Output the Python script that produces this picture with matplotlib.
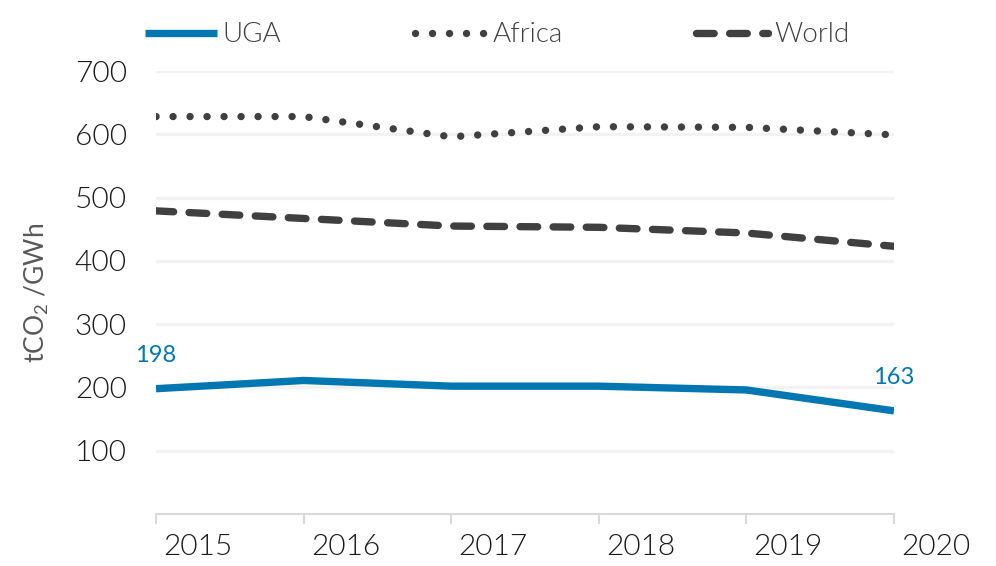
import matplotlib.pyplot as plt
from matplotlib.transforms import ScaledTranslation

# ---------------------------------------------------------
# Dados (tCO2/GWh)
# ---------------------------------------------------------
years = [2015, 2016, 2017, 2018, 2019, 2020]
uga = [198, 211, 202, 202, 196, 163]
africa = [628, 628, 596, 612, 611, 599]
world = [479, 467, 455, 453, 444, 423]

yticks = [100, 200, 300, 400, 500, 600, 700]

BLUE = "#0077b0"
DARK = "#404040"
GRID = "#f2f2f2"
AXIS = "#d9d9d9"

plt.rcParams["font.family"] = ["Lato", "DejaVu Sans"]
plt.rcParams["font.weight"] = 300
plt.rcParams["mathtext.fontset"] = "custom"
plt.rcParams["mathtext.rm"] = "Lato:weight=300"

fig = plt.figure(figsize=(9.96, 5.66), dpi=100)
ax = fig.add_axes([156 / 996, 52 / 566, (894 - 156) / 996, (514 - 71) / 566])

lw = 5.3
ax.plot(years, uga, color=BLUE, lw=lw, solid_capstyle="butt", label="UGA", zorder=4)
ax.plot(years, africa, color=DARK, lw=lw, linestyle=(0, (0.01, 2.3)),
        dash_capstyle="round", label="Africa", zorder=3)
ax.plot(years, world, color=DARK, lw=lw, linestyle=(0, (2.4, 2.1)),
        dash_capstyle="round", label="World", zorder=3)

# rótulos primeiro e último ponto
for i in (0, -1):
    ax.annotate(str(uga[i]), (years[i], uga[i]), xytext=(0, 24),
                textcoords="offset points", ha="center", va="center",
                color=BLUE, fontsize=17, fontweight="normal", zorder=5)

ax.set_xlim(2015, 2020)
ax.set_ylim(0, 700)
ax.set_yticks(yticks)
ax.set_xticks(years)
ax.yaxis.grid(True, color=GRID, lw=2.3)
ax.set_axisbelow(True)

for s in ["top", "right", "left"]:
    ax.spines[s].set_visible(False)
ax.spines["bottom"].set_color(AXIS)
ax.spines["bottom"].set_linewidth(1.5)

ax.tick_params(axis="y", length=0, pad=21, labelsize=21.5, labelcolor="#1a1a1a")
ax.tick_params(axis="x", direction="out", length=7.5, width=1.5, color=AXIS,
               pad=7, labelsize=21.5, labelcolor="#1a1a1a")

# anos deslocados para a direita, como no original
offset = ScaledTranslation(42 / 100, 0, fig.dpi_scale_trans)
for lab in ax.get_xticklabels():
    lab.set_transform(lab.get_transform() + offset)

ax.set_ylabel("tCO$\\mathregular{_2}$ /GWh", fontsize=19, color="#595959", labelpad=17)

leg = ax.legend(loc="center left", bbox_to_anchor=(145 / 996, 1 - 35 / 566),
                bbox_transform=fig.transFigure, ncol=3, frameon=False,
                fontsize=20, handlelength=2.6, handletextpad=0.2,
                columnspacing=4.8, borderpad=0, borderaxespad=0)
for t in leg.get_texts():
    t.set_color(DARK)

fig.savefig("out.png", dpi=100)
